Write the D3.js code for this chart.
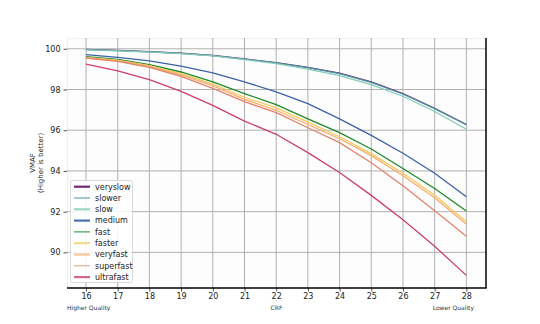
<!DOCTYPE html>
<html><head><meta charset="utf-8">
<script src="https://cdn.jsdelivr.net/npm/d3@7"></script>
<style>
html,body{margin:0;padding:0;background:#fff;}
svg{display:block;font-family:"DejaVu Sans",sans-serif;}
</style></head>
<body><svg id="c" width="540" height="324"></svg>
<script>
const crf = [16,17,18,19,20,21,22,23,24,25,26,27,28];
const presets = ["veryslow","slower","slow","medium","fast","faster","veryfast","superfast","ultrafast"];
const veryslow  = [99.97,99.92,99.86,99.78,99.67,99.50,99.32,99.09,98.81,98.37,97.80,97.08,96.28];
const slower    = [99.96,99.91,99.85,99.77,99.66,99.49,99.31,99.07,98.78,98.35,97.78,97.06,96.27];
const slow      = [99.95,99.90,99.84,99.76,99.65,99.47,99.27,99.00,98.68,98.24,97.67,96.92,96.05];
const medium    = [99.71,99.58,99.41,99.15,98.82,98.38,97.88,97.31,96.56,95.75,94.87,93.89,92.73];
const fast      = [99.62,99.48,99.22,98.86,98.37,97.80,97.26,96.56,95.88,95.08,94.12,93.14,92.03];
const faster    = [99.58,99.44,99.17,98.78,98.27,97.62,97.10,96.40,95.68,94.85,93.89,92.81,91.50];
const veryfast  = [99.56,99.41,99.13,98.72,98.19,97.52,96.98,96.28,95.58,94.75,93.76,92.68,91.38];
const superfast = [99.54,99.38,99.09,98.65,98.06,97.40,96.86,96.12,95.39,94.40,93.27,92.05,90.79];
const ultrafast = [99.25,98.92,98.48,97.91,97.22,96.45,95.80,94.90,93.92,92.80,91.60,90.30,88.87];
const yTicks = [90,92,94,96,98,100];
const series = [veryslow,slower,slow,medium,fast,faster,veryfast,superfast,ultrafast];
const colors = ["#6f2a72","#4a93a3","#86cbb9","#3a64a4","#1f8a2a","#f2c85a","#f4ad6e","#e4826a","#c9406a"];
const legendW = [2.2,1,2.2,2.2,1,2.2,2.2,1,2.2];
const legendAlpha = [1,1,0.8,0.9,1,0.7,0.7,0.8,0.8];

const svg = d3.select("#c");
const L=67, R=486, T=38, B=288;
const x = d3.scaleLinear().domain([15.4,28.62]).range([L,R]);
const y = d3.scaleLinear().domain([88.25,100.53]).range([B,T]);

svg.append("rect").attr("x",L).attr("y",T).attr("width",R-L).attr("height",B-T).attr("fill","#fdfdfd");
svg.append("line").attr("x1",L+0.5).attr("x2",L+0.5).attr("y1",T).attr("y2",B).attr("stroke","#eeeeee");
svg.append("line").attr("x1",L).attr("x2",R).attr("y1",T+0.5).attr("y2",T+0.5).attr("stroke","#f2f2f2");

// grid
svg.append("g").selectAll("line").data(crf).join("line")
  .attr("x1",d=>x(d)).attr("x2",d=>x(d)).attr("y1",T).attr("y2",B)
  .attr("stroke","#b0b0b0").attr("stroke-width",1);
svg.append("g").selectAll("line").data(yTicks).join("line")
  .attr("x1",L).attr("x2",R).attr("y1",d=>y(d)).attr("y2",d=>y(d))
  .attr("stroke","#b0b0b0").attr("stroke-width",1);

// lines
const line = d3.line().x((d,i)=>x(crf[i])).y(d=>y(d));
series.forEach((s,k)=>{
  svg.append("path").datum(s).attr("d",line).attr("fill","none")
    .attr("stroke",colors[k]).attr("stroke-width",1.3);
});

// axes
const xa = svg.append("g").attr("transform",`translate(0,${B})`)
  .call(d3.axisBottom(x).tickValues(crf).tickSize(3.5).tickPadding(2).tickFormat(d3.format("d")));
xa.select(".domain").remove();
const ya = svg.append("g").attr("transform",`translate(${L},0)`)
  .call(d3.axisLeft(y).tickValues(yTicks).tickSize(3.5).tickPadding(3).tickFormat(d3.format("d")));
ya.select(".domain").remove();
svg.selectAll(".tick text").attr("font-size",8).attr("fill","#222").attr("font-family","DejaVu Sans");
svg.selectAll(".tick line").attr("stroke","#222").attr("stroke-width",0.8);

// spines
svg.append("line").attr("x1",L).attr("x2",R+0.75).attr("y1",B).attr("y2",B).attr("stroke","#000").attr("stroke-width",1.5);
svg.append("line").attr("x1",R).attr("x2",R).attr("y1",T).attr("y2",B).attr("stroke","#000").attr("stroke-width",1.5);

// labels
svg.append("text").attr("x",(L+R)/2).attr("y",310).attr("text-anchor","middle")
  .attr("font-size",6).attr("fill","#333").text("CRF");
svg.append("text").attr("x",67).attr("y",310).attr("text-anchor","start")
  .attr("font-size",6).attr("fill","#333").text("Higher Quality");
svg.append("text").attr("x",474).attr("y",310).attr("text-anchor","end")
  .attr("font-size",6).attr("fill","#333").text("Lower Quality");
const yl = svg.append("text").attr("transform",`translate(36,${(T+B)/2}) rotate(-90)`)
  .attr("text-anchor","middle").attr("font-size",7).attr("fill","#222");
yl.append("tspan").attr("x",0).attr("dy",-1).text("VMAF");
yl.append("tspan").attr("x",0).attr("dy",8).text("(Higher is better)");

// legend
const lg = svg.append("g");
lg.append("rect").attr("x",70.5).attr("y",180.5).attr("width",62).attr("height",102)
  .attr("fill","#fff").attr("fill-opacity",0.85).attr("stroke","#d8d8d8").attr("rx",2);
presets.forEach((p,k)=>{
  const yy = 186.7 + k*11.3;
  lg.append("line").attr("x1",74).attr("x2",90).attr("y1",yy).attr("y2",yy)
    .attr("stroke",colors[k]).attr("stroke-width",legendW[k]).attr("stroke-opacity",legendAlpha[k]);
  lg.append("text").attr("x",95).attr("y",yy+2.8).attr("font-size",8).attr("fill","#222").text(p);
});
</script></body></html>
